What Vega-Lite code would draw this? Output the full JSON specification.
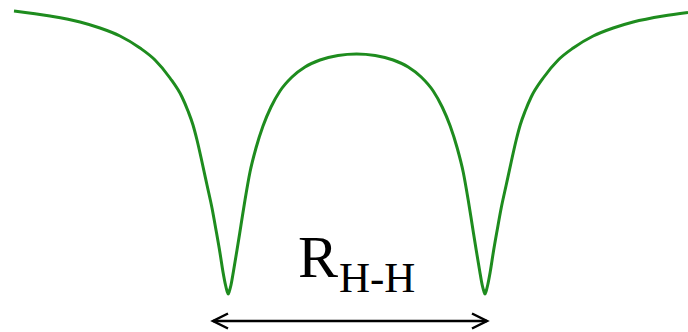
{
  "$schema": "https://vega.github.io/schema/vega-lite/v6.json",
  "width": 688,
  "height": 332,
  "padding": 0,
  "autosize": {"type": "none"},
  "background": "white",
  "config": {"view": {"stroke": null}},
  "datasets": {
    "curve": [
      {"r": 14, "e": 321}, {"r": 50, "e": 316}, {"r": 80, "e": 310}, {"r": 100, "e": 304},
      {"r": 120, "e": 296}, {"r": 140, "e": 284}, {"r": 155, "e": 272}, {"r": 170, "e": 254},
      {"r": 182, "e": 235}, {"r": 188, "e": 221}, {"r": 193, "e": 207}, {"r": 197, "e": 192}, {"r": 202, "e": 170},
      {"r": 207, "e": 147}, {"r": 212, "e": 124}, {"r": 216, "e": 102}, {"r": 220, "e": 79},
      {"r": 223, "e": 60}, {"r": 225.5, "e": 47}, {"r": 227, "e": 41}, {"r": 228.2, "e": 38},
      {"r": 229.4, "e": 41}, {"r": 231, "e": 47}, {"r": 233.5, "e": 61}, {"r": 237, "e": 82},
      {"r": 241, "e": 107}, {"r": 245, "e": 132}, {"r": 250, "e": 160}, {"r": 256, "e": 184},
      {"r": 263, "e": 206}, {"r": 271, "e": 225}, {"r": 280, "e": 241}, {"r": 292, "e": 255},
      {"r": 305, "e": 265}, {"r": 320, "e": 272}, {"r": 338, "e": 276.5}, {"r": 356.6, "e": 278},
      {"r": 375.2, "e": 276.5}, {"r": 393.2, "e": 272}, {"r": 408.2, "e": 265}, {"r": 421.2, "e": 255},
      {"r": 433.2, "e": 241}, {"r": 442.2, "e": 225}, {"r": 450.2, "e": 206}, {"r": 457.2, "e": 184},
      {"r": 463.2, "e": 160}, {"r": 468.2, "e": 132}, {"r": 472.2, "e": 107}, {"r": 476.2, "e": 82},
      {"r": 479.7, "e": 61}, {"r": 482.2, "e": 47}, {"r": 483.8, "e": 41}, {"r": 485, "e": 38},
      {"r": 486.2, "e": 41}, {"r": 487.7, "e": 47}, {"r": 490.2, "e": 60}, {"r": 493.2, "e": 79},
      {"r": 497.2, "e": 102}, {"r": 501.2, "e": 124}, {"r": 506.2, "e": 147}, {"r": 511.2, "e": 170},
      {"r": 516.2, "e": 192}, {"r": 520.2, "e": 207}, {"r": 525.2, "e": 221}, {"r": 531.2, "e": 235}, {"r": 543.2, "e": 254},
      {"r": 558.2, "e": 272}, {"r": 573.2, "e": 284}, {"r": 593.2, "e": 296}, {"r": 613.2, "e": 304},
      {"r": 633.2, "e": 310}, {"r": 663.2, "e": 316}, {"r": 688, "e": 319.5}
    ]
  },
  "layer": [
    {
      "data": {"name": "curve"},
      "mark": {"type": "line", "color": "#1e8c1e", "strokeWidth": 3, "interpolate": "monotone", "clip": false},
      "encoding": {
        "x": {"field": "r", "type": "quantitative", "scale": {"domain": [0, 688], "nice": false, "zero": false}, "axis": null},
        "y": {"field": "e", "type": "quantitative", "scale": {"domain": [0, 332], "nice": false, "zero": false}, "axis": null}
      }
    },
    {
      "data": {"values": [{"a": 213, "b": 487, "e": 11}]},
      "mark": {"type": "rule", "color": "black", "strokeWidth": 2.5},
      "encoding": {
        "x": {"field": "a", "type": "quantitative"},
        "x2": {"field": "b"},
        "y": {"field": "e", "type": "quantitative"}
      }
    },
    {
      "data": {"values": [{"a": 213, "e": 11}]},
      "mark": {"type": "point", "shape": "M1,-0.5L0,0L1,0.5", "size": 900, "filled": false, "stroke": "black", "strokeWidth": 2.5, "opacity": 1},
      "encoding": {
        "x": {"field": "a", "type": "quantitative"},
        "y": {"field": "e", "type": "quantitative"}
      }
    },
    {
      "data": {"values": [{"a": 487, "e": 11}]},
      "mark": {"type": "point", "shape": "M-1,-0.5L0,0L-1,0.5", "size": 900, "filled": false, "stroke": "black", "strokeWidth": 2.5, "opacity": 1},
      "encoding": {
        "x": {"field": "a", "type": "quantitative"},
        "y": {"field": "e", "type": "quantitative"}
      }
    },
    {
      "data": {"values": [{"a": 298, "e": 55, "t": "R"}]},
      "mark": {"type": "text", "font": "Liberation Serif", "fontSize": 60, "align": "left", "baseline": "alphabetic", "color": "black"},
      "encoding": {
        "x": {"field": "a", "type": "quantitative"},
        "y": {"field": "e", "type": "quantitative"},
        "text": {"field": "t"}
      }
    },
    {
      "data": {"values": [{"a": 339, "e": 40, "t": "H-H"}]},
      "mark": {"type": "text", "font": "Liberation Serif", "fontSize": 43, "align": "left", "baseline": "alphabetic", "color": "black"},
      "encoding": {
        "x": {"field": "a", "type": "quantitative"},
        "y": {"field": "e", "type": "quantitative"},
        "text": {"field": "t"}
      }
    }
  ]
}
